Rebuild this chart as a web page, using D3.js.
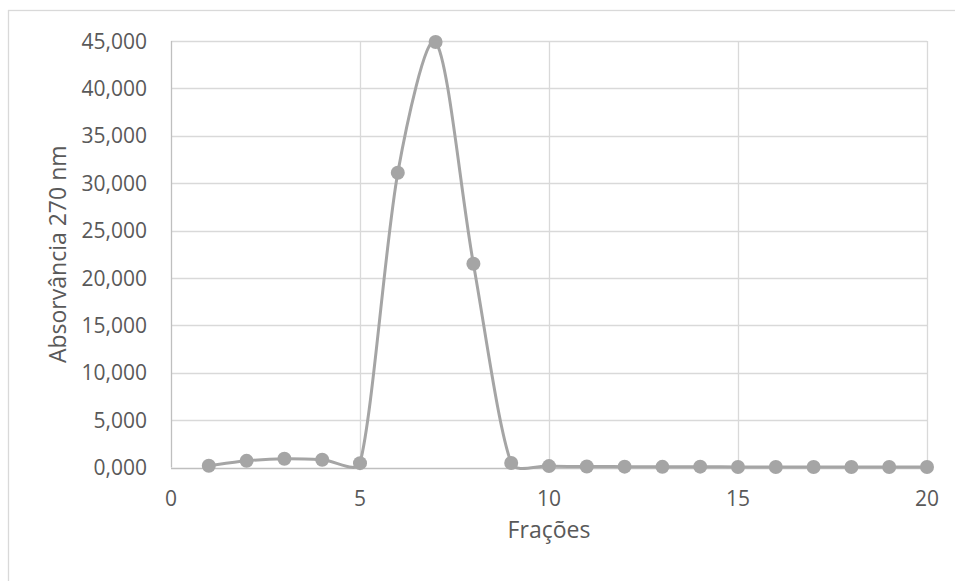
<!DOCTYPE html>
<html>
<head>
<meta charset="utf-8">
<script src="https://cdn.jsdelivr.net/npm/d3@7"></script>
<style>
  html, body { margin: 0; padding: 0; background: #fff; }
  svg { display: block; font-family: "Open Sans", "Noto Sans", sans-serif; }
</style>
</head>
<body>
<svg id="chart" width="955" height="581"></svg>
<script>
// Absorbance at 270 nm for each collected fraction
const fractions = [1, 2, 3, 4, 5, 6, 7, 8, 9, 10, 11, 12, 13, 14, 15, 16, 17, 18, 19, 20];
const absorbance = [0.18, 0.70, 0.92, 0.81, 0.46, 31.1, 44.9, 21.5, 0.48, 0.15, 0.10, 0.09, 0.07, 0.09, 0.06, 0.06, 0.06, 0.06, 0.05, 0.06];
const yTicks = [0, 5, 10, 15, 20, 25, 30, 35, 40, 45];
const xTicks = [0, 5, 10, 15, 20];
const xTitle = "Frações";
const yTitle = "Absorvância 270 nm";

const svg = d3.select("#chart");
const plotLeft = 171, plotRight = 927, plotTop = 41, plotBottom = 467.5;

const x = d3.scaleLinear().domain([0, 20]).range([plotLeft, plotRight]);
const y = d3.scaleLinear().domain([0, 45]).range([plotBottom, plotTop]);

// Portuguese number format: decimal comma, three decimals
const ptBR = d3.formatLocale({ decimal: ",", thousands: ".", grouping: [3], currency: ["R$", ""] });
const fmt = ptBR.format(".3f");

// Smoothed-line curve: cubic Béziers whose handle lengths are weighted by
// the neighbouring chord lengths (never longer than the Catmull-Rom 1/6),
// which keeps short segments from overshooting.
function smoothChord(context) {
  let pts;
  const dist = (a, b) => Math.hypot(b[0] - a[0], b[1] - a[1]);
  const maxF = 1 / 6;
  return {
    areaStart() {}, areaEnd() {},
    lineStart() { pts = []; },
    point(px, py) { pts.push([+px, +py]); },
    lineEnd() {
      const n = pts.length;
      if (!n) return;
      context.moveTo(pts[0][0], pts[0][1]);
      for (let i = 0; i < n - 1; i++) {
        const p0 = pts[Math.max(i - 1, 0)], p1 = pts[i], p2 = pts[i + 1], p3 = pts[Math.min(i + 2, n - 1)];
        const d01 = dist(p0, p1), d12 = dist(p1, p2), d23 = dist(p2, p3);
        const f1 = (d01 + d12) > 0 ? Math.min(maxF, (1 / 3) * d12 / (d01 + d12)) : 0;
        const f2 = (d12 + d23) > 0 ? Math.min(maxF, (1 / 3) * d12 / (d12 + d23)) : 0;
        const c1 = [p1[0] + f1 * (p2[0] - p0[0]), p1[1] + f1 * (p2[1] - p0[1])];
        const c2 = [p2[0] - f2 * (p3[0] - p1[0]), p2[1] - f2 * (p3[1] - p1[1])];
        context.bezierCurveTo(c1[0], c1[1], c2[0], c2[1], p2[0], p2[1]);
      }
    }
  };
}

// outer chart frame
svg.append("rect")
  .attr("x", 8.5).attr("y", 10.5)
  .attr("width", 1000).attr("height", 1000)
  .attr("fill", "none").attr("stroke", "#d9d9d9").attr("stroke-width", 1.3);

// horizontal gridlines
svg.append("g").selectAll("line").data(yTicks.filter(d => d > 0)).join("line")
  .attr("x1", plotLeft).attr("x2", plotRight)
  .attr("y1", d => Math.round(y(d)) + 0.5).attr("y2", d => Math.round(y(d)) + 0.5)
  .attr("stroke", "#d9d9d9").attr("stroke-width", 1.3);

// vertical gridlines
svg.append("g").selectAll("line").data(xTicks.filter(d => d > 0)).join("line")
  .attr("x1", d => Math.round(x(d)) + 0.5).attr("x2", d => Math.round(x(d)) + 0.5)
  .attr("y1", plotTop).attr("y2", plotBottom)
  .attr("stroke", "#d9d9d9").attr("stroke-width", 1.3);

// axis lines
svg.append("line")
  .attr("x1", plotLeft + 0.5).attr("x2", plotLeft + 0.5).attr("y1", plotTop).attr("y2", plotBottom)
  .attr("stroke", "#bfbfbf").attr("stroke-width", 1.3);
svg.append("line")
  .attr("x1", plotLeft).attr("x2", plotRight)
  .attr("y1", Math.round(plotBottom) + 0.5).attr("y2", Math.round(plotBottom) + 0.5)
  .attr("stroke", "#bfbfbf").attr("stroke-width", 1.3);

// tick labels
svg.append("g").selectAll("text").data(yTicks).join("text")
  .attr("x", 147).attr("y", d => y(d))
  .attr("dy", "0.36em").attr("text-anchor", "end")
  .attr("font-size", 21).attr("fill", "#595959")
  .text(d => fmt(d));

svg.append("g").selectAll("text").data(xTicks).join("text")
  .attr("x", d => x(d)).attr("y", 506)
  .attr("text-anchor", "middle")
  .attr("font-size", 21).attr("fill", "#595959")
  .text(d => d);

// axis titles
svg.append("text")
  .attr("x", x(10)).attr("y", 538)
  .attr("text-anchor", "middle")
  .attr("font-size", 23).attr("fill", "#595959")
  .text(xTitle);

svg.append("text")
  .attr("transform", `translate(66,${(plotTop + plotBottom) / 2}) rotate(-90)`)
  .attr("text-anchor", "middle")
  .attr("font-size", 23).attr("fill", "#595959")
  .text(yTitle);

// smoothed series line
const pts = fractions.map((f, i) => [f, absorbance[i]]);
const line = d3.line()
  .x(d => x(d[0])).y(d => y(d[1]))
  .curve(smoothChord);

svg.append("path")
  .datum(pts)
  .attr("d", line)
  .attr("fill", "none").attr("stroke", "#a5a5a5").attr("stroke-width", 3);

// markers
svg.append("g").selectAll("circle").data(pts).join("circle")
  .attr("cx", d => x(d[0])).attr("cy", d => y(d[1]))
  .attr("r", 7).attr("fill", "#a5a5a5");
</script>
</body>
</html>
